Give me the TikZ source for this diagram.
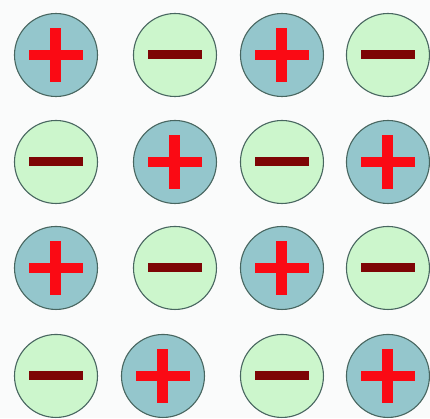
\documentclass[tikz,border=0pt]{standalone}
\usepackage{xcolor}
\usepackage{tikz}

\definecolor{poscol}{RGB}{148,198,204}
\definecolor{negcol}{RGB}{204,246,204}
\definecolor{ringcol}{RGB}{72,102,96}
\definecolor{pluscol}{RGB}{250,10,20}
\definecolor{minuscol}{RGB}{125,5,5}
\definecolor{backcol}{RGB}{250,251,251}

\begin{document}
\begin{tikzpicture}[
    x=1pt, y=-1pt,
    ion/.style={circle, draw=ringcol, line width=1.1pt, minimum size=83pt, inner sep=0pt},
    posion/.style={ion, fill=poscol, path picture={
        \fill[pluscol] ([xshift=-27pt,yshift=-5pt]path picture bounding box.center) rectangle ++(54pt,10pt);
        \fill[pluscol] ([xshift=-5.5pt,yshift=-27pt]path picture bounding box.center) rectangle ++(11pt,54pt);}},
    negion/.style={ion, fill=negcol, path picture={
        \fill[minuscol] ([xshift=-27pt,yshift=-4.5pt]path picture bounding box.center) rectangle ++(54pt,9pt);}}
]

% Background
\fill[backcol] (0,0) rectangle (430,418);

% Row 1
\node (a1) [posion] at (56,55) {};
\node (a2) [negion] at (175,55) {};
\node (a3) [posion] at (282,55) {};
\node (a4) [negion] at (388,55) {};

% Row 2
\node (b1) [negion] at (56,162) {};
\node (b2) [posion] at (175,162) {};
\node (b3) [negion] at (282,162) {};
\node (b4) [posion] at (388,162) {};

% Row 3
\node (c1) [posion] at (56,268) {};
\node (c2) [negion] at (175,268) {};
\node (c3) [posion] at (282,268) {};
\node (c4) [negion] at (388,268) {};

% Row 4
\node (d1) [negion] at (56,376) {};
\node (d2) [posion] at (163,376) {};
\node (d3) [negion] at (282,376) {};
\node (d4) [posion] at (388,376) {};

\end{tikzpicture}
\end{document}
